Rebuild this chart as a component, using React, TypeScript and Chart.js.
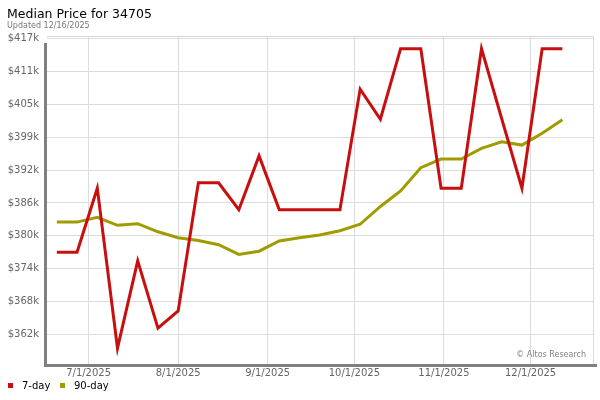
import React, { useEffect, useRef } from 'react';
import { Chart, registerables } from 'chart.js';

Chart.register(...registerables);

// ---- data ----
const weekDates = [
  '6/20/2025', '6/27/2025', '7/4/2025', '7/11/2025', '7/18/2025', '7/25/2025',
  '8/1/2025', '8/8/2025', '8/15/2025', '8/22/2025', '8/29/2025',
  '9/5/2025', '9/12/2025', '9/19/2025', '9/26/2025',
  '10/3/2025', '10/10/2025', '10/17/2025', '10/24/2025', '10/31/2025',
  '11/7/2025', '11/14/2025', '11/21/2025', '11/28/2025',
  '12/5/2025', '12/12/2025',
];
const sevenDay = [
  377200, 377200, 389100, 359400, 375600, 363100,
  366300, 390100, 390100, 385100, 395100,
  385100, 385100, 385100, 385100,
  407500, 401900, 415000, 415000, 389100,
  389100, 415000, 402000, 389100,
  415000, 415000,
];
const ninetyDay = [
  382800, 382800, 383700, 382200, 382500, 381000,
  379900, 379400, 378600, 376800, 377400,
  379300, 379900, 380400, 381200,
  382400, 385700, 388600, 392900, 394500,
  394500, 396500, 397700, 397100,
  399300, 401800,
];
const seriesNames = ['7-day', '90-day'];
const xTickLabels = ['7/1/2025', '8/1/2025', '9/1/2025', '10/1/2025', '11/1/2025', '12/1/2025'];
const yTickValues = [361910, 368020, 374130, 380240, 386350, 392460, 398570, 404680, 410790, 416900];
const yTickLabels = ['$362k', '$368k', '$374k', '$380k', '$386k', '$392k', '$399k', '$405k', '$411k', '$417k'];
const titleText = 'Median Price for 34705';
const subtitleText = 'Updated 12/16/2025';
const creditText = '\u00A9 Altos Research';

// ---- helpers ----
const dayOffset = (s: string) => {
  const [m, d, y] = s.split('/').map(Number);
  return (Date.UTC(y, m - 1, d) - Date.UTC(2025, 6, 1)) / 86400000;
};

const RED = '#c80f0f';
const OLIVE = '#a09c00';
const FONT = '"DejaVu Sans", sans-serif';

const chromePlugin = {
  id: 'chrome',
  afterDraw(chart: any) {
    const { ctx, chartArea: a } = chart;
    ctx.save();
    // top & right border
    ctx.strokeStyle = '#d8d8d8';
    ctx.lineWidth = 1;
    ctx.beginPath();
    ctx.moveTo(a.left, a.top + 0.5);
    ctx.lineTo(a.right + 0.5, a.top + 0.5);
    ctx.lineTo(a.right + 0.5, a.bottom);
    ctx.stroke();
    // axis bars
    ctx.fillStyle = '#808080';
    ctx.fillRect(a.left - 3, a.top + 7, 3, a.bottom - a.top - 4);
    ctx.fillRect(a.left - 3, a.bottom, a.right - a.left + 7, 3);
    // title
    ctx.fillStyle = '#000';
    ctx.textAlign = 'left';
    ctx.textBaseline = 'alphabetic';
    ctx.font = `12.5px ${FONT}`;
    ctx.fillText(titleText, 7, 17.5);
    ctx.fillStyle = '#777';
    ctx.font = `8px ${FONT}`;
    ctx.fillText(subtitleText, 7, 28);
    // credit
    ctx.textAlign = 'right';
    ctx.textBaseline = 'middle';
    ctx.fillStyle = '#808080';
    ctx.font = `8px ${FONT}`;
    ctx.fillText(creditText, 586, 354.5);
    // legend
    ctx.textAlign = 'left';
    ctx.font = `10px ${FONT}`;
    const colors = [RED, OLIVE];
    let x = 8;
    seriesNames.forEach((n, i) => {
      ctx.fillStyle = colors[i];
      ctx.fillRect(x, 383, 5, 5);
      ctx.fillStyle = '#000';
      ctx.fillText(n, x + 14, 386);
      x = 60;
    });
    ctx.restore();
  },
};

export default function App() {
  const ref = useRef<HTMLCanvasElement>(null);
  useEffect(() => {
    if (!ref.current) return;
    const xs = weekDates.map(dayOffset);
    const xTicks = xTickLabels.map(dayOffset);
    const chart = new Chart(ref.current, {
      type: 'line',
      data: {
        datasets: [
          {
            label: seriesNames[0],
            data: xs.map((x, i) => ({ x, y: sevenDay[i] })),
            borderColor: RED,
            backgroundColor: RED,
            borderWidth: 3,
            pointRadius: 0,
            tension: 0,
          },
          {
            label: seriesNames[1],
            data: xs.map((x, i) => ({ x, y: ninetyDay[i] })),
            borderColor: OLIVE,
            backgroundColor: OLIVE,
            borderWidth: 3,
            pointRadius: 0,
            tension: 0,
          },
        ],
      },
      options: {
        responsive: false,
        animation: false,
        devicePixelRatio: 1,
        layout: { padding: { left: 0, top: 36, right: 7, bottom: 0 } },
        plugins: { legend: { display: false }, title: { display: false }, tooltip: { enabled: false } },
        scales: {
          x: {
            type: 'linear',
            min: -14.4,
            max: 174.6,
            afterFit: (s: any) => { s.height = 36; },
            afterBuildTicks: (s: any) => { s.ticks = xTicks.map((v) => ({ value: v })); },
            grid: { color: '#dcdcdc', lineWidth: 1, drawTicks: false },
            border: { display: false },
            ticks: {
              padding: 3,
              color: '#666',
              font: { family: FONT, size: 10 },
              maxRotation: 0,
              callback: (v: any) => { const i = xTicks.indexOf(Number(v)); return i >= 0 ? xTickLabels[i] : ''; },
            },
          },
          y: {
            type: 'linear',
            min: 356450,
            max: 417360,
            afterFit: (s: any) => { s.width = 47; },
            afterBuildTicks: (s: any) => { s.ticks = yTickValues.map((v) => ({ value: v })); },
            grid: { color: '#dcdcdc', lineWidth: 1, drawTicks: false },
            border: { display: false },
            ticks: {
              padding: 8,
              color: '#666',
              font: { family: FONT, size: 10 },
              callback: (v: any) => { const i = yTickValues.indexOf(Number(v)); return i >= 0 ? yTickLabels[i] : ''; },
            },
          },
        },
      },
      plugins: [chromePlugin],
    });
    return () => chart.destroy();
  }, []);
  return (
    <div style={{ position: 'absolute', left: 0, top: 0, width: 600, height: 400, background: '#fff' }}>
      <canvas ref={ref} width={600} height={400} />
    </div>
  );
}
